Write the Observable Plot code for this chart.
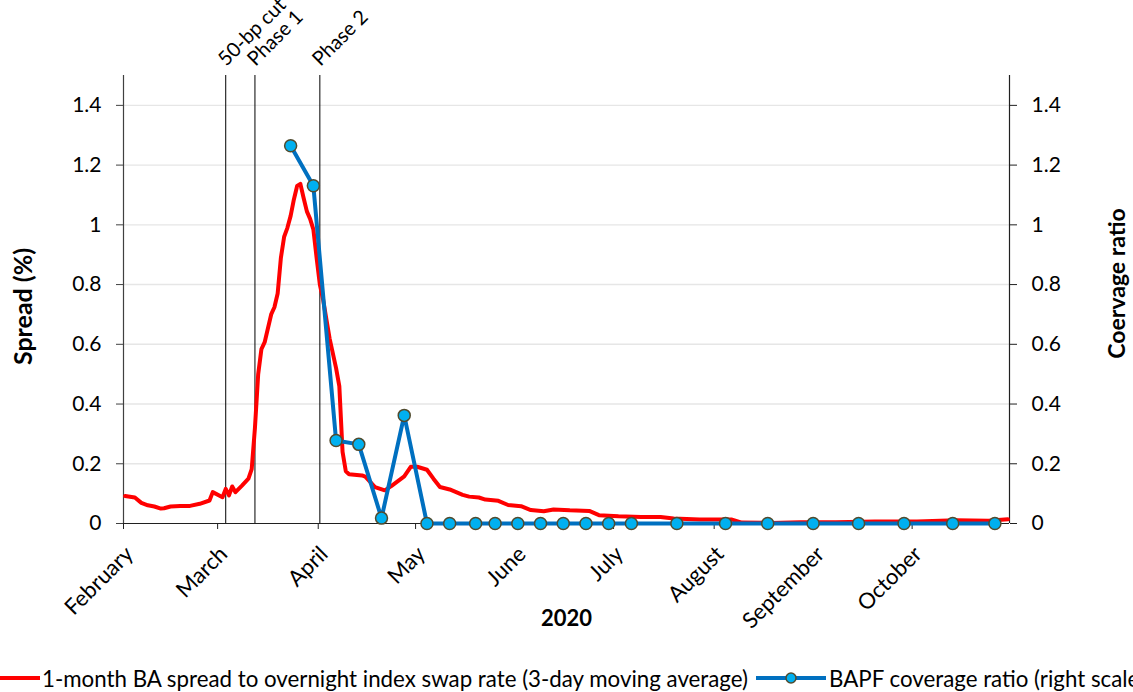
<!DOCTYPE html>
<html><head><meta charset="utf-8">
<script src="https://cdn.jsdelivr.net/npm/d3@7"></script>
<script src="https://cdn.jsdelivr.net/npm/@observablehq/plot@0.6"></script>
<style>
html,body{margin:0;padding:0;background:#fff;}
body{width:1133px;height:692px;overflow:hidden;position:relative;font-family:Lato,"Open Sans",sans-serif;}
#chart{position:absolute;left:0;top:0;}
#legend{position:absolute;left:0;top:664px;white-space:nowrap;display:flex;align-items:center;color:#000;height:28px;}
#legend .item{display:flex;align-items:center;}
</style></head><body>
<div id="chart"></div>
<div id="legend"></div>
<script>
// ---- data ----
const spreadDates = ["2020-02-01","2020-02-04","2020-02-06","2020-02-08","2020-02-10","2020-02-12","2020-02-13","2020-02-15","2020-02-18","2020-02-21","2020-02-24","2020-02-27","2020-02-28","2020-03-02","2020-03-03","2020-03-04","2020-03-05","2020-03-06","2020-03-08","2020-03-10","2020-03-11","2020-03-12","2020-03-13","2020-03-14","2020-03-15","2020-03-17","2020-03-18","2020-03-19","2020-03-20","2020-03-21","2020-03-22","2020-03-23","2020-03-24","2020-03-25","2020-03-26","2020-03-27","2020-03-28","2020-03-29","2020-03-30","2020-03-31","2020-04-01","2020-04-02","2020-04-04","2020-04-06","2020-04-07","2020-04-08","2020-04-09","2020-04-10","2020-04-14","2020-04-15","2020-04-18","2020-04-21","2020-04-23","2020-04-27","2020-04-29","2020-05-01","2020-05-04","2020-05-06","2020-05-08","2020-05-11","2020-05-15","2020-05-17","2020-05-20","2020-05-22","2020-05-26","2020-05-29","2020-06-02","2020-06-05","2020-06-09","2020-06-12","2020-06-17","2020-06-23","2020-06-26","2020-07-02","2020-07-09","2020-07-15","2020-07-19","2020-07-27","2020-08-02","2020-08-06","2020-08-09","2020-08-18","2020-08-27","2020-09-07","2020-09-19","2020-10-02","2020-10-14","2020-10-24","2020-10-30"];
const spreadValues = [0.092,0.087,0.069,0.061,0.057,0.050,0.051,0.057,0.059,0.059,0.066,0.077,0.105,0.088,0.116,0.094,0.124,0.105,0.127,0.150,0.182,0.32,0.50,0.584,0.607,0.70,0.724,0.77,0.89,0.96,0.99,1.03,1.085,1.13,1.137,1.09,1.045,1.02,0.985,0.89,0.80,0.75,0.62,0.52,0.46,0.24,0.175,0.165,0.161,0.157,0.122,0.111,0.125,0.158,0.19,0.19,0.18,0.15,0.122,0.114,0.096,0.09,0.087,0.08,0.076,0.062,0.058,0.045,0.041,0.047,0.044,0.042,0.028,0.024,0.022,0.022,0.017,0.013,0.013,0.013,0.003,0.002,0.004,0.004,0.007,0.007,0.011,0.009,0.014];
const coverageDates = ["2020-03-23","2020-03-30","2020-04-06","2020-04-13","2020-04-20","2020-04-27","2020-05-04","2020-05-11","2020-05-19","2020-05-25","2020-06-01","2020-06-08","2020-06-15","2020-06-22","2020-06-29","2020-07-06","2020-07-20","2020-08-04","2020-08-17","2020-08-31","2020-09-14","2020-09-28","2020-10-13","2020-10-26"];
const coverageValues = [1.265,1.131,0.278,0.265,0.018,0.362,0,0,0,0,0,0,0,0,0,0,0,0,0,0,0,0,0,0];
const eventDates = ["2020-03-03","2020-03-12","2020-04-01"];
const eventLabels = ["50-bp cut","Phase 1","Phase 2"];
const monthTicks = ["2020-02-01","2020-03-01","2020-04-01","2020-05-01","2020-06-01","2020-07-01","2020-08-01","2020-09-01","2020-10-01"];
const monthLabels = ["February","March","April","May","June","July","August","September","October"];
const xDomain = ["2020-02-01","2020-10-31"];
const yTicks = [0,0.2,0.4,0.6,0.8,1,1.2,1.4];
const yDomain = [0,1.5];
const xTitle = "2020";
const yLeftTitle = "Spread (%)";
const yRightTitle = "Coervage ratio";
const legendLabels = ["1-month BA spread to overnight index swap rate (3-day moving average)","BAPF coverage ratio (right scale)"];

// ---- build ----
const parse = d3.utcParse("%Y-%m-%d");
const HALF = 12 * 3600e3; // points sit mid-day (between tick marks)
const mid = s => new Date(+parse(s) + HALF);
const spread = spreadDates.map((d, i) => ({date: mid(d), value: spreadValues[i]}));
const coverage = coverageDates.map((d, i) => ({date: mid(d), value: coverageValues[i]}));
const events = eventDates.map((d, i) => ({date: mid(d), label: eventLabels[i]}));
const months = monthTicks.map((d, i) => ({date: parse(d), label: monthLabels[i]}));
const xd = xDomain.map(parse);
const fmt = d => String(+d.toFixed(1));

const FONT = "Lato, 'Open Sans', sans-serif";
const RED = "#ff0000", BLUE = "#0070c0", DOTFILL = "#00b0f0", DOTSTROKE = "#514b2e";

const chart = Plot.plot({
  width: 1133, height: 655,
  marginLeft: 123, marginRight: 124, marginTop: 75, marginBottom: 132,
  x: {type: "utc", domain: xd},
  y: {domain: yDomain},
  style: {fontFamily: FONT, fontSize: "21px", color: "#000", background: "white"},
  marks: [
    Plot.ruleY(yTicks.filter(d => d > 0), {stroke: "#e6e6e6", strokeWidth: 1.4}),
    Plot.ruleX(events, {x: "date", stroke: "#000", strokeWidth: 1}),
    Plot.ruleX([xd[0]], {stroke: "#404040", strokeWidth: 1.2}),
    Plot.ruleX([xd[1]], {stroke: "#202020", strokeWidth: 1.2}),
    Plot.ruleY([0], {stroke: "#202020", strokeWidth: 1.2}),
    Plot.axisY({anchor: "left", ticks: yTicks, tickSize: 7, tickPadding: 15, tickFormat: fmt, label: null, stroke: "#404040", fill: "#000", fontSize: 21}),
    Plot.axisY({anchor: "right", ticks: yTicks, tickSize: 7, tickPadding: 15, tickFormat: fmt, label: null, stroke: "#202020", fill: "#000", fontSize: 21}),
    Plot.axisX({anchor: "bottom", ticks: months.map(d => d.date), tickSize: 6, tickFormat: () => "", label: null, stroke: "#202020"}),
    Plot.text(months, {x: "date", text: "label", frameAnchor: "bottom", rotate: -45, textAnchor: "end", lineAnchor: "middle", dx: 6, dy: 27, fontSize: 22, fill: "#000"}),
    Plot.text([xTitle], {text: d => d, frameAnchor: "bottom", textAnchor: "middle", lineAnchor: "middle", dy: 95, fontWeight: "bold", fontSize: 22}),
    Plot.text([yLeftTitle], {text: d => d, frameAnchor: "left", textAnchor: "middle", lineAnchor: "middle", rotate: -90, dx: -100, dy: 7, fontWeight: "bold", fontSize: 25}),
    Plot.text([yRightTitle], {text: d => d, frameAnchor: "right", textAnchor: "middle", lineAnchor: "middle", rotate: -90, dx: 108, dy: -16, fontWeight: "bold", fontSize: 23}),
    Plot.text(events, {x: "date", text: "label", frameAnchor: "top", rotate: -45, textAnchor: "start", lineAnchor: "middle", dx: -4, dy: -13, fontSize: 20, fill: "#000"}),
    Plot.line(spread, {x: "date", y: "value", stroke: RED, strokeWidth: 4, strokeLinejoin: "round"}),
    Plot.line(coverage, {x: "date", y: "value", stroke: BLUE, strokeWidth: 4, strokeLinejoin: "round"}),
    Plot.dot(coverage, {x: "date", y: "value", r: 6, fill: DOTFILL, stroke: DOTSTROKE, strokeWidth: 1.5})
  ]
});
document.getElementById("chart").append(chart);

// ---- legend ----
const ctx = document.createElement("canvas").getContext("2d");
ctx.font = `20px ${FONT}`;
const legendSize = 20 * 708 / ctx.measureText(legendLabels[0]).width;
const legend = d3.select("#legend").style("font-size", legendSize + "px");
const i1 = legend.append("div").attr("class", "item");
const s1 = i1.append("svg").attr("width", 40).attr("height", 12);
s1.append("line").attr("x1", 0).attr("x2", 40).attr("y1", 6).attr("y2", 6).attr("stroke", RED).attr("stroke-width", 4);
i1.append("span").style("margin-left", "2px").text(legendLabels[0]);
const i2 = legend.append("div").attr("class", "item").style("margin-left", "8px");
const s2 = i2.append("svg").attr("width", 70).attr("height", 14);
s2.append("line").attr("x1", 0).attr("x2", 70).attr("y1", 7).attr("y2", 7).attr("stroke", BLUE).attr("stroke-width", 4);
s2.append("circle").attr("cx", 35).attr("cy", 7).attr("r", 5).attr("fill", DOTFILL).attr("stroke", DOTSTROKE).attr("stroke-width", 1.5);
i2.append("span").style("margin-left", "3px").text(legendLabels[1]);
</script>
</body></html>
